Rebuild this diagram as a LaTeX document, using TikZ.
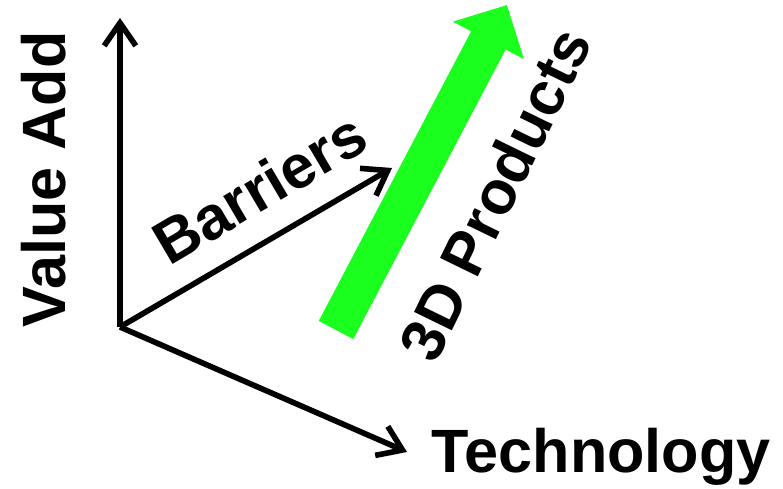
\documentclass[tikz,border=0pt]{standalone}
\usepackage{fontspec}
\setmainfont{Liberation Sans}
\usetikzlibrary{arrows.meta}

\definecolor{brightgreen}{RGB}{26,255,30}

\begin{document}
\begin{tikzpicture}[scale=1, >={Straight Barb[length=6.5pt,width=9pt]}, line width=1.6pt,
  label/.style={font=\fontsize{17.4}{20}\selectfont\bfseries, inner sep=0pt, anchor=base west}]

\useasboundingbox (0,0) rectangle (7.83,4.88);

% Define coordinates
\coordinate (O) at (1.20,1.61);
\coordinate (Y_end) at (1.20,4.70);
\coordinate (B_end) at (3.92,3.20);
\coordinate (X_end) at (4.07,0.36);
\coordinate (G_start) at (3.36,1.58);
\coordinate (G_end) at (5.07,4.83);

% Draw the green arrow
\draw[brightgreen, line width=0.39cm, -{Triangle[length=0.40cm,width=0.78cm]}] (G_start) -- (G_end);

% Draw the three axes
\draw[->] (O) -- (Y_end);
\draw[->] (O) -- (B_end);
\draw[->] (O) -- (X_end);

% Place labels
\node[label, rotate=90] (value) at (0.65,1.58) {Value Add};
\node[label, rotate=30.5] (barriers) at (1.67,2.20) {Barriers};
\node[label, rotate=64] (products) at (4.34,1.20) {3D Products};
\node[label] (tech) at (4.29,0.16) {Technology};

\end{tikzpicture}
\end{document}
